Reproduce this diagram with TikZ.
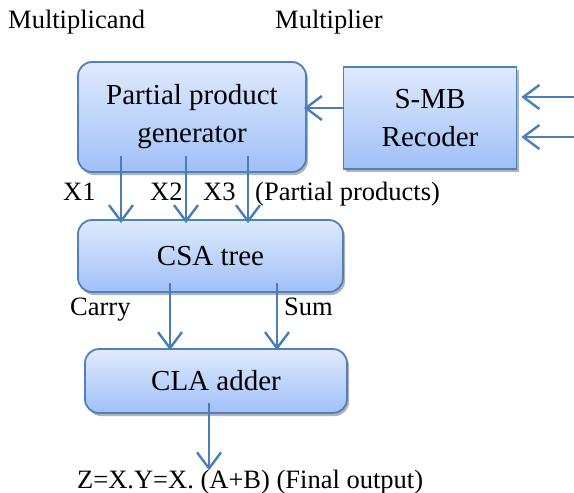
\documentclass[tikz,border=0pt]{standalone}
\usepackage{fontspec}
\setmainfont{Liberation Serif}
\usetikzlibrary{arrows.meta,shadows,calc}
\definecolor{edgec}{HTML}{4F81BD}
\definecolor{arrowc}{HTML}{4A7EBB}
\definecolor{topc}{HTML}{DFEAFD}
\definecolor{botc}{HTML}{A0C0F8}
\begin{document}
\begin{tikzpicture}[x=1pt,y=-1pt,
  box/.style={draw=edgec, line width=1.8pt, top color=topc, bottom color=botc,
    inner sep=0pt, align=center, font=\fontsize{29}{38}\selectfont,
    drop shadow={shadow xshift=2pt,shadow yshift=-3pt,fill=black!50,opacity=0.6}},
  rbox/.style={box, rounded corners=14pt},
  lab/.style={anchor=base west, inner sep=0pt, font=\fontsize{26.5}{30}\selectfont},
  arr/.style={draw=arrowc, line width=2.4pt, -{Straight Barb[length=16pt,width=24pt]}}]
\useasboundingbox (0,0) rectangle (574,493);

\node[rbox, minimum width=228pt, minimum height=110pt] (ppg) at (192,117) {Partial product\\generator};
\node[box, minimum width=173pt, minimum height=102pt] (smb) at (430,117.6) {S-MB\\Recoder};
\node[rbox, minimum width=265pt, minimum height=72pt] (csa) at (210.5,256) {CSA tree};
\node[rbox, minimum width=262pt, minimum height=64pt] (cla) at (216,381) {CLA adder};

\node[lab] (mcand) at (8,28) {Multiplicand};
\node[lab] (mplier) at (275,28) {Multiplier};
\node[lab] (x1) at (63,200) {X1};
\node[lab] (x2) at (150,200) {X2};
\node[lab] (x3) at (203,200) {X3};
\node[lab] (pp) at (255,200) {(Partial products)};
\node[lab] (carry) at (70,315) {Carry};
\node[lab] (sum) at (284,315) {Sum};
\node[lab] (out) at (77,488) {Z=X.Y=X. (A+B) (Final output)};

\coordinate (in1) at (574,97);
\coordinate (in2) at (574,137);
\coordinate (s1) at (344,108);
\coordinate (p1) at (121,156);
\coordinate (p2) at (186,156);
\coordinate (p3) at (248,156);
\coordinate (c1) at (170,283);
\coordinate (c2) at (277,283);
\coordinate (o1) at (209,403);

\draw[arr, shorten >=4pt] (in1) -- (in1 -| smb.east);
\draw[arr, shorten >=4pt] (in2) -- (in2 -| smb.east);
\draw[arr, shorten >=-3pt] (s1) -- (s1 -| ppg.east);
\draw[arr, shorten >=-4pt] (p1) -- (p1 |- csa.north);
\draw[arr, shorten >=-4pt] (p2) -- (p2 |- csa.north);
\draw[arr, shorten >=-4pt] (p3) -- (p3 |- csa.north);
\draw[arr, shorten >=-2pt] (c1) -- (c1 |- cla.north);
\draw[arr, shorten >=-2pt] (c2) -- (c2 |- cla.north);
\draw[arr, shorten >=-1pt] (o1) -- (o1 |- out.north);
\end{tikzpicture}
\end{document}
